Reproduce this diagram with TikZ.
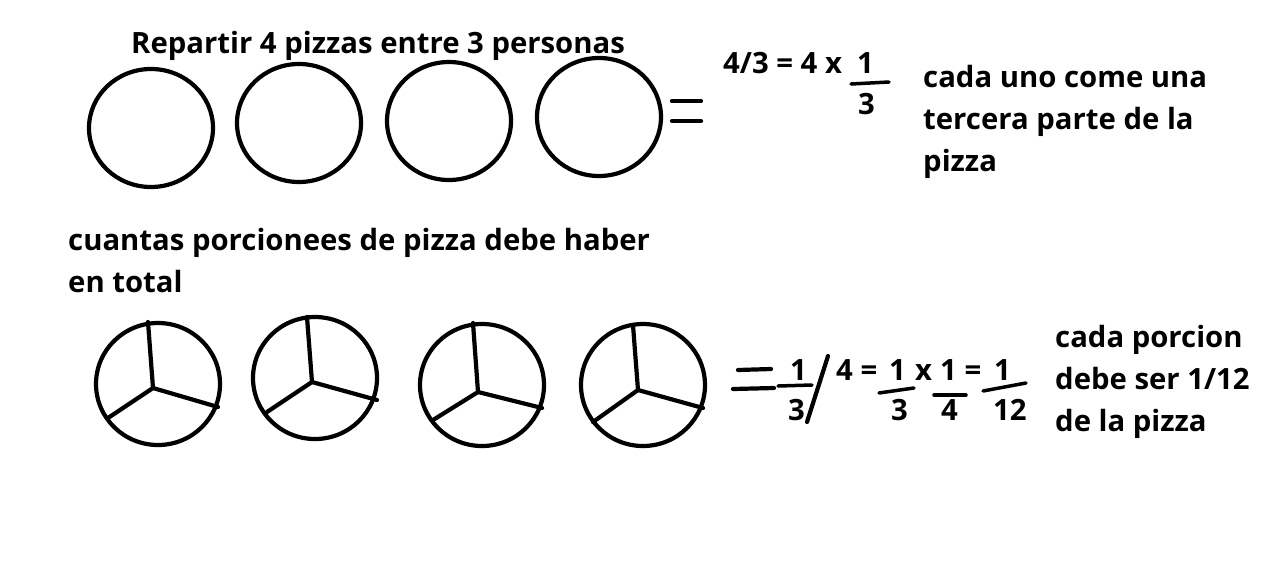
\documentclass[tikz,border=0pt]{standalone}
\usepackage{fontspec}
\setmainfont{Open Sans}
\usepackage{tikz}
\usetikzlibrary{positioning}

\begin{document}
\begin{tikzpicture}[
      x=1pt, y=-1pt,
      every node/.style={font=\bfseries\fontsize{29.3}{42}\selectfont},
      txt/.style={inner sep=0pt, anchor=base west, align=left},
      pen/.style={line width=4.2pt, line cap=round, color=black},
      bar/.style={line width=3.5pt, line cap=round, color=black}
    ]
      \useasboundingbox[fill=white] (0,0) rectangle (1268,579);

      % Top Row: four whole pizzas
      \node[txt] (titulo) at (131,53) {Repartir 4 pizzas entre 3 personas};
      \foreach \cx/\cy in {151/128, 299/123, 449/121, 599/117}
        \draw[pen] (\cx,\cy) ellipse [x radius=62, y radius=59];
      \draw[pen] (672,101) -- (701,101);
      \draw[pen] (672,121) -- (701,121);

      % Top Row: 4/3 = 4 x 1/3
      \node[txt] (cuenta) at (723,73) {4/3 = 4 x};
      \node[txt] (unoT) at (857,73) {1};
      \coordinate (barA1) at (851,84);
      \coordinate (barA2) at (889,82);
      \draw[bar] (barA1) -- (barA2);
      \node[txt] (tresA) at (858,114) {3};
      % base anchor sits on the last line
      \node[txt] (nota) at (923,171) {cada uno come una\\tercera parte de la\\pizza};

      % Bottom Row: pizzas cut in thirds
      \node[txt] (pregunta) at (68,292) {cuantas porcionees de pizza debe haber\\en total};
      \foreach \cx/\cy/\mx/\my/\tx/\ty/\rx/\ry/\lx/\ly in {
          158/384/153/388/148/322/218/407/108/418,
          315/378/312/382/307/317/377/400/267/412,
          482/385/478/392/473/323/542/408/433/420,
          643/385/638/390/633/325/703/408/593/422}
      {
        \draw[pen] (\cx,\cy) ellipse [x radius=62, y radius=61];
        \draw[pen] (\tx,\ty) -- (\mx,\my) -- (\rx,\ry);
        \draw[pen] (\mx,\my) -- (\lx,\ly);
      }

      % Bottom Row: = 1/3 / 4 = 1/3 x 1/4 = 1/12
      \draw[pen] (738,370) -- (771,369);
      \draw[pen] (733,389) -- (774,388);
      \draw[bar] (778,386) -- (812,385);
      \node[txt] (unoA) at (790,380) {1};
      \node[txt] (tresB) at (788,420) {3};
      \draw[pen] (828,356) -- (807,422);
      \node[txt] (cuatroA) at (836,380) {4 =};
      \node[txt] (unoB) at (889,380) {1};
      \node[txt] (por) at (915,380) {x};
      \node[txt] (unoC) at (940,380) {1 =};
      \node[txt] (unoD) at (994,380) {1};
      \draw[bar] (879,393) -- (914,388);
      \draw[bar] (934,395) -- (966,395);
      \draw[bar] (983,391) -- (1026,383);
      \node[txt] (tresC) at (891,420) {3};
      \node[txt] (cuatroB) at (941,420) {4};
      \node[txt] (doce) at (993,420) {12};
      \node[txt] (respuesta) at (1055,431) {cada porcion\\debe ser 1/12\\de la pizza};
    \end{tikzpicture}
\end{document}
